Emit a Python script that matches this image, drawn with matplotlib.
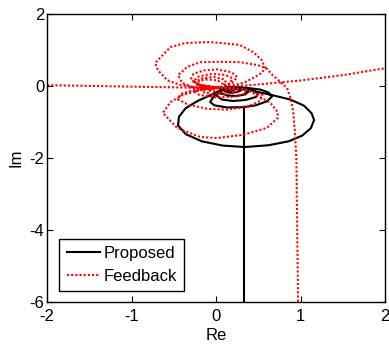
import numpy as np
import matplotlib
matplotlib.use("Agg")
import matplotlib.pyplot as plt

plt.rcParams["font.family"] = ["Liberation Sans", "DejaVu Sans"]
plt.rcParams["axes.unicode_minus"] = False

nan = np.nan

# ---- Proposed (black): asymptote + loops, NaN separates pieces ----
prop_re = [
    0.33, 0.33, 0.33, 0.33, nan,
    # loop 1
    0.12, 0.28, 0.46, 0.67, 0.88, 1.04, 1.13, 1.16, 1.12, 1.02, 0.86, 0.62, 0.34,
    0.08, -0.17, -0.36, -0.45, -0.44, -0.36, -0.22, -0.05, 0.12, nan,
    # loop 2
    0.12, 0.35, 0.52, 0.62, 0.66, 0.60, 0.47, 0.33, 0.13, -0.02, -0.07,
    -0.03, 0.05, 0.12, nan,
    # loop 3
    0.12, 0.28, 0.42, 0.50, 0.47, 0.35, 0.20, 0.07, 0.01, 0.03, 0.12, nan,
    # loop 4
    0.12, 0.24, 0.34, 0.38, 0.34, 0.24, 0.14, 0.06, 0.05, 0.12, nan,
    # loop 5
    0.12, 0.20, 0.27, 0.29, 0.25, 0.18, 0.11, 0.08, 0.12, nan,
    # loop 6
    0.12, 0.18, 0.22, 0.22, 0.18, 0.13, 0.10, 0.12, nan,
    # loop 7
    0.12, 0.16, 0.18, 0.17, 0.13, 0.11, 0.12,
]
prop_im = [
    -6.0, -4.0, -2.0, -0.58, nan,
    -0.03, -0.06, -0.15, -0.26, -0.38, -0.55, -0.76, -0.95, -1.18, -1.38, -1.54, -1.65, -1.70,
    -1.66, -1.54, -1.34, -1.10, -0.86, -0.62, -0.42, -0.24, -0.03, nan,
    -0.03, -0.05, -0.10, -0.18, -0.30, -0.43, -0.54, -0.59, -0.60, -0.54, -0.45,
    -0.30, -0.12, -0.03, nan,
    -0.03, -0.05, -0.11, -0.21, -0.31, -0.39, -0.42, -0.38, -0.28, -0.15, -0.03, nan,
    -0.03, -0.05, -0.10, -0.17, -0.24, -0.28, -0.27, -0.21, -0.11, -0.03, nan,
    -0.03, -0.05, -0.08, -0.13, -0.17, -0.19, -0.16, -0.10, -0.03, nan,
    -0.03, -0.04, -0.07, -0.10, -0.13, -0.12, -0.07, -0.03, nan,
    -0.03, -0.04, -0.06, -0.09, -0.09, -0.06, -0.03,
]

# ---- Feedback (red dotted) ----
fb_re = [
    # line from left
    -2.0, -1.5, -1.0, -0.5, -0.2, 0.05, nan,
    # line to right
    0.05, 0.5, 1.0, 1.5, 2.0, nan,
    # asymptote + medium upper loop
    0.97, 0.96, 0.95, 0.93, 0.91, 0.88, 0.84, 0.76, 0.67, 0.60, 0.49, 0.28,
    0.05, -0.19, -0.34, -0.45, -0.40, -0.27, 0.05, nan,
    # big upper loop
    0.05, 0.32, 0.44, 0.54, 0.58, 0.54, 0.44, 0.28, -0.07, -0.37, -0.54,
    -0.72, -0.69, -0.58, -0.43, -0.19, 0.05, nan,
    # big lower loop
    0.05, 0.37, 0.52, 0.64, 0.73, 0.73, 0.60, 0.32, 0.01, -0.19, -0.46,
    -0.63, -0.54, -0.39, -0.19, 0.05, nan,
    # second lower loop
    0.05, 0.35, 0.55, 0.52, 0.37, 0.13, -0.10, -0.33, -0.45, -0.42, -0.20, 0.05, nan,
    # small upper loops
    0.05, 0.20, 0.25, 0.18, 0.01, -0.15, -0.27, -0.30, -0.20, 0.05, nan,
    0.05, 0.17, 0.19, 0.10, -0.05, -0.20, -0.27, -0.20, 0.05, nan,
    0.05, 0.12, 0.10, -0.03, -0.17, -0.26, -0.20, 0.05, nan,
    0.05, 0.08, 0.02, -0.10, -0.20, -0.22, -0.10, 0.05, nan,
    # small lower loops
    0.05, 0.30, 0.36, 0.22, 0.00, -0.20, -0.26, -0.10, 0.05, nan,
    0.05, 0.24, 0.27, 0.14, -0.04, -0.16, -0.14, 0.05, nan,
    0.05, 0.18, 0.18, 0.06, -0.06, -0.10, 0.05,
]
fb_im = [
    0.02, 0.00, -0.02, -0.04, -0.06, -0.05, nan,
    -0.05, 0.04, 0.15, 0.30, 0.49, nan,
    -6.0, -4.0, -2.0, -1.20, -0.67, -0.34, -0.06, 0.11, 0.30, 0.48, 0.58, 0.66,
    0.67, 0.66, 0.53, 0.30, 0.08, -0.04, -0.05, nan,
    -0.05, 0.08, 0.22, 0.36, 0.50, 0.72, 0.94, 1.14, 1.22, 1.19, 1.08,
    0.64, 0.44, 0.16, 0.03, -0.06, -0.05, nan,
    -0.05, -0.11, -0.31, -0.47, -0.73, -0.89, -1.17, -1.36, -1.45, -1.42, -1.17,
    -0.75, -0.45, -0.25, -0.11, -0.05, nan,
    -0.05, -0.10, -0.25, -0.42, -0.58, -0.66, -0.64, -0.52, -0.38, -0.22, -0.08, -0.05, nan,
    -0.05, 0.10, 0.25, 0.38, 0.46, 0.43, 0.33, 0.18, 0.03, -0.05, nan,
    -0.05, 0.08, 0.22, 0.31, 0.33, 0.27, 0.13, 0.01, -0.05, nan,
    -0.05, 0.07, 0.18, 0.25, 0.21, 0.10, 0.00, -0.05, nan,
    -0.05, 0.05, 0.15, 0.18, 0.14, 0.05, -0.02, -0.05, nan,
    -0.05, -0.10, -0.20, -0.30, -0.32, -0.25, -0.15, -0.08, -0.05, nan,
    -0.05, -0.08, -0.15, -0.22, -0.23, -0.17, -0.10, -0.05, nan,
    -0.05, -0.07, -0.12, -0.16, -0.15, -0.10, -0.05,
]

x_ticks = [-2, -1, 0, 1, 2]
y_ticks = [-6, -4, -2, 0, 2]

fig = plt.figure(figsize=(3.89, 3.49), dpi=100)
ax = fig.add_axes([0.121, 0.1355, 0.869, 0.8245])

ax.plot(prop_re, prop_im, color="black", linewidth=1.5, label="Proposed")
ax.plot(fb_re, fb_im, color="red", linewidth=1.5, linestyle=(0, (1, 1)), label="Feedback")

ax.set_xlim(-2, 2)
ax.set_ylim(-6, 2)
ax.set_xticks(x_ticks)
ax.set_yticks(y_ticks)
ax.tick_params(direction="in", top=True, right=True, labelsize=12, length=4)
ax.tick_params(axis="x", pad=5)
ax.tick_params(axis="y", pad=2)
ax.set_xlabel("Re", fontsize=12, labelpad=3)
ax.set_ylabel("Im", fontsize=12, labelpad=4)
for s in ax.spines.values():
    s.set_linewidth(1.0)

leg = ax.legend(loc="lower left", bbox_to_anchor=(0.036, 0.037), fontsize=12,
                fancybox=False, edgecolor="black", framealpha=1, borderaxespad=0,
                handlelength=2.0, handletextpad=0.2, borderpad=0.45, labelspacing=0.45)
leg.get_frame().set_linewidth(1.0)

fig.savefig("out.png", dpi=100)
